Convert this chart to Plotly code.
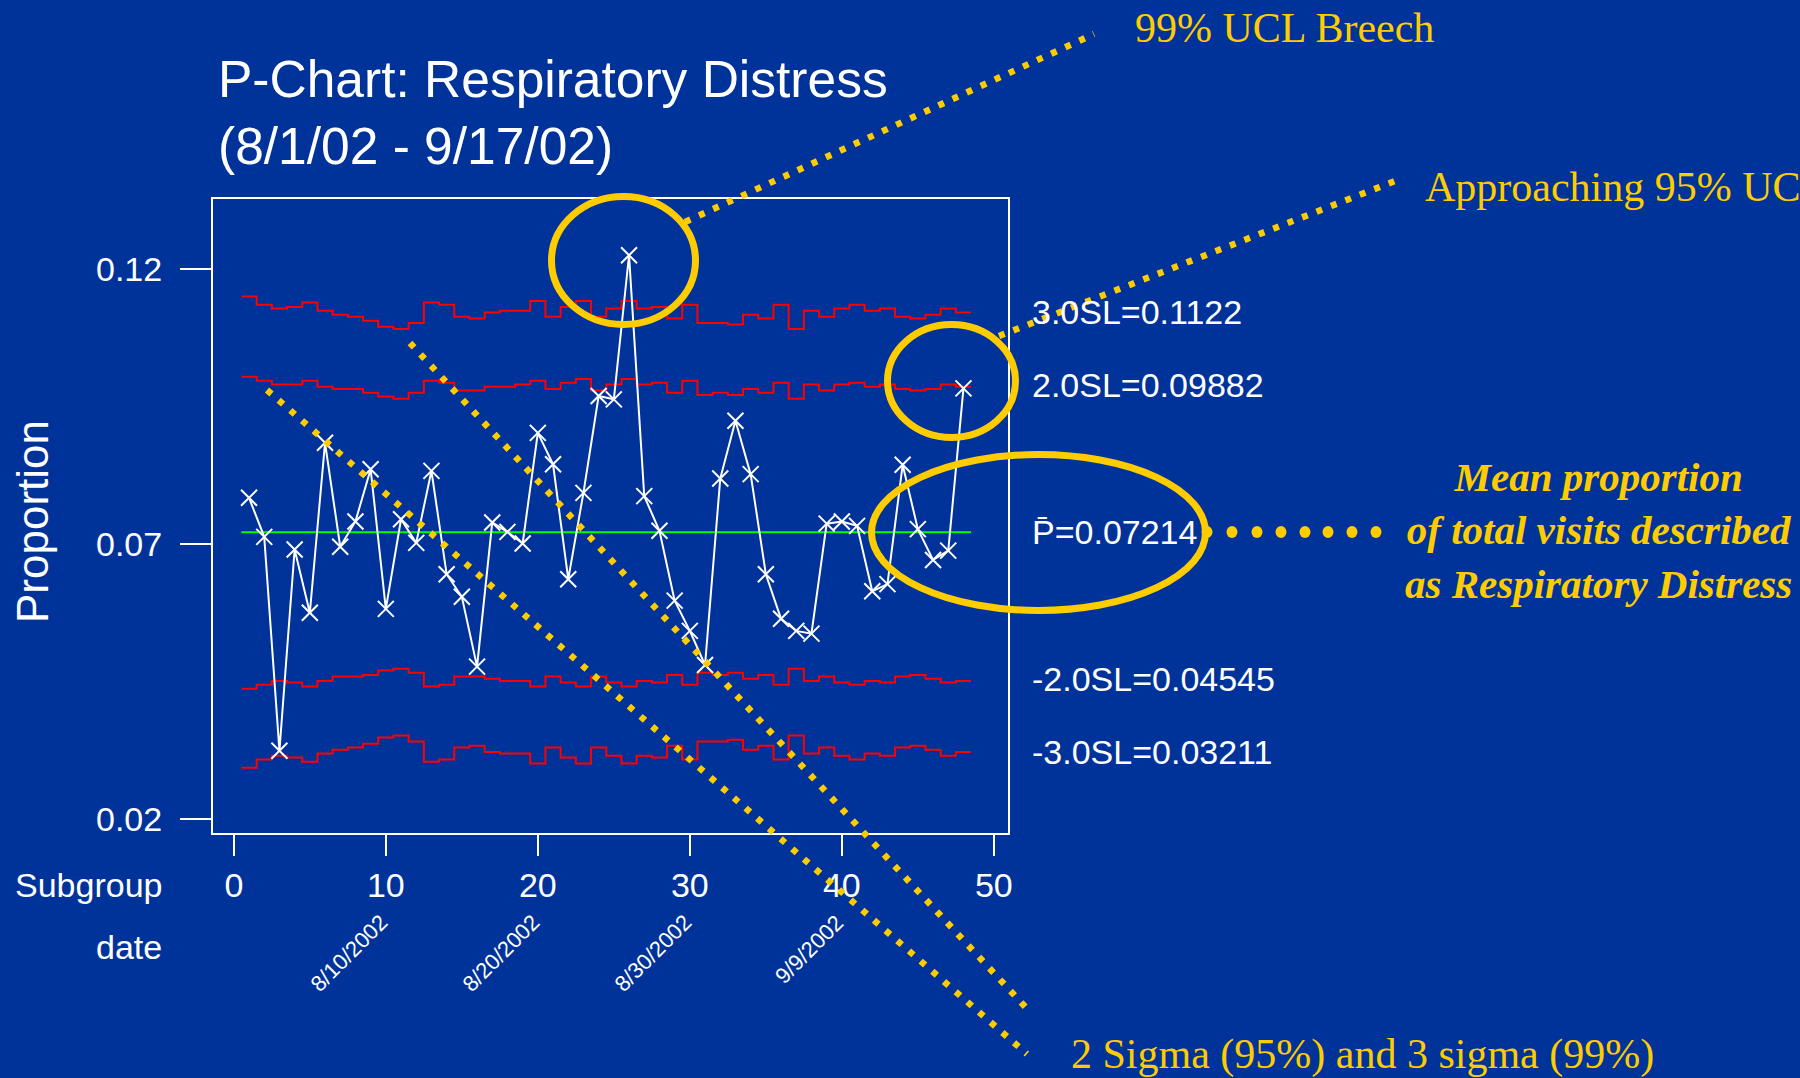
import plotly.graph_objects as go

# --- data ---
subgroup = list(range(1, 49))
proportion = [
    0.0784, 0.0713, 0.0324, 0.0690, 0.0575, 0.0884, 0.0695, 0.0741, 0.0836, 0.0582,
    0.0745, 0.0702, 0.0833, 0.0645, 0.0604, 0.0477, 0.0739, 0.0722, 0.0701, 0.0902,
    0.0845, 0.0636, 0.0793, 0.0969, 0.0963, 0.1225, 0.0787, 0.0724, 0.0597, 0.0542,
    0.0480, 0.0819, 0.0924, 0.0827, 0.0645, 0.0564, 0.0542, 0.0537, 0.0737, 0.0741,
    0.0733, 0.0614, 0.0627, 0.0844, 0.0727, 0.0671, 0.0688, 0.0983,
]
ucl3 = [
    0.1150, 0.1135, 0.1128, 0.1131, 0.1139, 0.1124, 0.1117, 0.1113, 0.1106, 0.1095,
    0.1091, 0.1102, 0.1139, 0.1135, 0.1113, 0.1110, 0.1121, 0.1124, 0.1124, 0.1142,
    0.1113, 0.1131, 0.1142, 0.1113, 0.1128, 0.1142, 0.1128, 0.1131, 0.1110, 0.1135,
    0.1102, 0.1102, 0.1099, 0.1117, 0.1110, 0.1135, 0.1091, 0.1124, 0.1113, 0.1128,
    0.1135, 0.1124, 0.1128, 0.1113, 0.1110, 0.1117, 0.1128, 0.1121,
]
ucl2 = [
    0.1004, 0.0997, 0.0990, 0.0990, 0.0997, 0.0986, 0.0982, 0.0982, 0.0975, 0.0968,
    0.0964, 0.0975, 0.0997, 0.0993, 0.0979, 0.0979, 0.0986, 0.0986, 0.0990, 0.0997,
    0.0982, 0.0993, 0.1000, 0.0979, 0.0990, 0.1000, 0.0990, 0.0993, 0.0975, 0.0997,
    0.0971, 0.0975, 0.0971, 0.0982, 0.0975, 0.0993, 0.0964, 0.0990, 0.0979, 0.0990,
    0.0993, 0.0986, 0.0990, 0.0982, 0.0979, 0.0982, 0.0990, 0.0986,
]
lcl2 = [
    0.0437, 0.0444, 0.0451, 0.0448, 0.0441, 0.0451, 0.0459, 0.0459, 0.0462, 0.0470,
    0.0473, 0.0466, 0.0441, 0.0444, 0.0459, 0.0459, 0.0455, 0.0451, 0.0451, 0.0441,
    0.0459, 0.0448, 0.0441, 0.0459, 0.0448, 0.0441, 0.0451, 0.0448, 0.0462, 0.0444,
    0.0466, 0.0462, 0.0466, 0.0455, 0.0462, 0.0444, 0.0473, 0.0451, 0.0459, 0.0448,
    0.0444, 0.0451, 0.0448, 0.0459, 0.0462, 0.0455, 0.0448, 0.0451,
]
lcl3 = [
    0.0293, 0.0308, 0.0315, 0.0312, 0.0304, 0.0319, 0.0326, 0.0330, 0.0337, 0.0348,
    0.0352, 0.0341, 0.0304, 0.0308, 0.0330, 0.0333, 0.0322, 0.0319, 0.0319, 0.0301,
    0.0330, 0.0312, 0.0301, 0.0330, 0.0315, 0.0301, 0.0315, 0.0312, 0.0333, 0.0308,
    0.0341, 0.0341, 0.0344, 0.0326, 0.0333, 0.0308, 0.0352, 0.0319, 0.0330, 0.0315,
    0.0308, 0.0319, 0.0315, 0.0330, 0.0333, 0.0326, 0.0315, 0.0322,
]
center = 0.07214

limit_levels = [0.1122, 0.09882, 0.07214, 0.04545, 0.03211]
limit_labels = ["3.0SL=0.1122", "2.0SL=0.09882", "P\u0304=0.07214",
                "-2.0SL=0.04545", "-3.0SL=0.03211"]

x_ticks = [0, 10, 20, 30, 40, 50]
y_ticks = [0.02, 0.07, 0.12]
y_ticktext = ["0.02", "0.07", "0.12"]
date_ticks = [10, 20, 30, 40]
date_labels = ["8/10/2002", "8/20/2002", "8/30/2002", "9/9/2002"]

BG = "#003399"
YEL = "#FFCC00"
SANS = "Liberation Sans, Arial, sans-serif"
SERIF = "Liberation Serif, Times New Roman, serif"

# plot area in pixels (used only to place the slide callouts)
L, T, R, B = 213, 199, 1008, 833


def px(x):
    return (x - L) / (R - L)


def py(y):
    return (B - y) / (B - T)


# step edges: each subgroup holds its limit from i-0.5 to i+0.5
edges = [s - 0.5 for s in subgroup] + [subgroup[-1] + 0.5]

fig = go.Figure()

for lim in (ucl3, ucl2, lcl2, lcl3):
    fig.add_trace(go.Scatter(
        x=edges, y=lim + [lim[-1]], mode="lines", line_shape="hv",
        line=dict(color="#FF0000", width=2), hoverinfo="skip", showlegend=False,
    ))

fig.add_trace(go.Scatter(
    x=[edges[0], edges[-1]], y=[center, center], mode="lines",
    line=dict(color="#00FF00", width=2), hoverinfo="skip", showlegend=False,
))

fig.add_trace(go.Scatter(
    x=subgroup, y=proportion, mode="lines+markers",
    line=dict(color="white", width=2),
    marker=dict(symbol="x-thin", size=16, line=dict(width=2, color="white")),
    showlegend=False,
))

ann = []
# control limit labels on the right
for lvl, txt in zip(limit_levels, limit_labels):
    ann.append(dict(x=1, xref="paper", xshift=22, y=lvl, yref="y", text=txt,
                    xanchor="left", yanchor="middle", showarrow=False,
                    font=dict(family=SANS, size=34, color="white")))

# date labels under the subgroup axis
for t, d in zip(date_ticks, date_labels):
    ann.append(dict(x=t, xref="x", xshift=9, y=py(907), yref="paper", text=d,
                    textangle=-45, xanchor="right", yanchor="top", showarrow=False,
                    font=dict(family=SANS, size=22, color="white")))

ann += [
    dict(x=px(216), y=py(113), xref="paper", yref="paper",
         text="P-Chart: Respiratory Distress<br>(8/1/02 - 9/17/02)",
         xanchor="left", yanchor="middle", align="left", showarrow=False,
         font=dict(family=SANS, size=51.5, color="white")),
    dict(x=px(32), y=py(522), xref="paper", yref="paper", text="Proportion",
         textangle=-90, xanchor="center", yanchor="middle", showarrow=False,
         font=dict(family=SANS, size=44, color="white")),
    dict(x=px(164), y=py(885), xref="paper", yref="paper", text="Subgroup",
         xanchor="right", yanchor="middle", showarrow=False,
         font=dict(family=SANS, size=34, color="white")),
    dict(x=px(164), y=py(947), xref="paper", yref="paper", text="date",
         xanchor="right", yanchor="middle", showarrow=False,
         font=dict(family=SANS, size=34, color="white")),
    dict(x=px(1133), y=py(28), xref="paper", yref="paper", text="99% UCL Breech",
         xanchor="left", yanchor="middle", showarrow=False,
         font=dict(family=SERIF, size=42, color=YEL)),
    dict(x=px(1423), y=py(187), xref="paper", yref="paper", text="Approaching 95% UCL",
         xanchor="left", yanchor="middle", showarrow=False,
         font=dict(family=SERIF, size=42, color=YEL)),
    dict(x=px(1598), y=py(530), xref="paper", yref="paper",
         text="<b><i>Mean proportion<br>of total visits described<br>as Respiratory Distress</i></b>",
         xanchor="center", yanchor="middle", align="center", showarrow=False,
         font=dict(family=SERIF, size=41, color=YEL)),
    dict(x=px(1069), y=py(1054), xref="paper", yref="paper",
         text="2 Sigma (95%) and 3 sigma (99%)",
         xanchor="left", yanchor="middle", showarrow=False,
         font=dict(family=SERIF, size=42, color=YEL)),
]

shapes = []
# circled regions
for x0, y0, x1, y1 in [(551.5, 196.5, 695.5, 324.5),
                       (887.5, 324.5, 1015.5, 437.5),
                       (871.5, 454.5, 1205.5, 610.5)]:
    shapes.append(dict(type="circle", xref="paper", yref="paper",
                       x0=px(x0), x1=px(x1), y0=py(y0), y1=py(y1),
                       line=dict(color=YEL, width=7), layer="above"))

# dotted pointer lines
for x0, y0, x1, y1 in [(685, 222, 1094, 34),
                       (999, 336, 1395, 181),
                       (267, 390, 1027, 1054),
                       (410, 343, 1030, 1012)]:
    shapes.append(dict(type="line", xref="paper", yref="paper",
                       x0=px(x0), x1=px(x1), y0=py(y0), y1=py(y1),
                       line=dict(color=YEL, width=6.5, dash="6px,9.5px"), layer="above"))

# round dots leading to the mean-proportion note
for xd in [1207, 1232, 1257, 1281, 1305, 1328, 1352, 1376]:
    shapes.append(dict(type="circle", xref="paper", yref="paper",
                       xsizemode="pixel", ysizemode="pixel",
                       xanchor=px(xd), yanchor=py(532),
                       x0=-5.5, x1=5.5, y0=-6, y1=6,
                       fillcolor=YEL, line=dict(width=0), layer="above"))

axis_common = dict(
    showgrid=False, zeroline=False, showline=True, mirror=True,
    linecolor="white", linewidth=2, ticks="outside", tickcolor="white",
    tickwidth=2, tickfont=dict(family=SANS, size=34, color="white"),
)

fig.update_layout(
    width=1800, height=1078,
    paper_bgcolor=BG, plot_bgcolor=BG,
    margin=dict(l=L, r=1800 - R, t=T, b=1078 - B),
    xaxis=dict(range=[-1.37, 50.93], tickvals=x_ticks, ticklen=21,
               ticklabelstandoff=0, **axis_common),
    yaxis=dict(range=[0.01745, 0.13273], tickvals=y_ticks, ticktext=y_ticktext,
               ticklen=31, ticklabelstandoff=11, **axis_common),
    annotations=ann, shapes=shapes, showlegend=False,
)

# page has a default body margin; drop it so the slide fills the window
fig.write_html("out.html", config={"displayModeBar": False},
               post_script="document.body.style.margin='0';")
